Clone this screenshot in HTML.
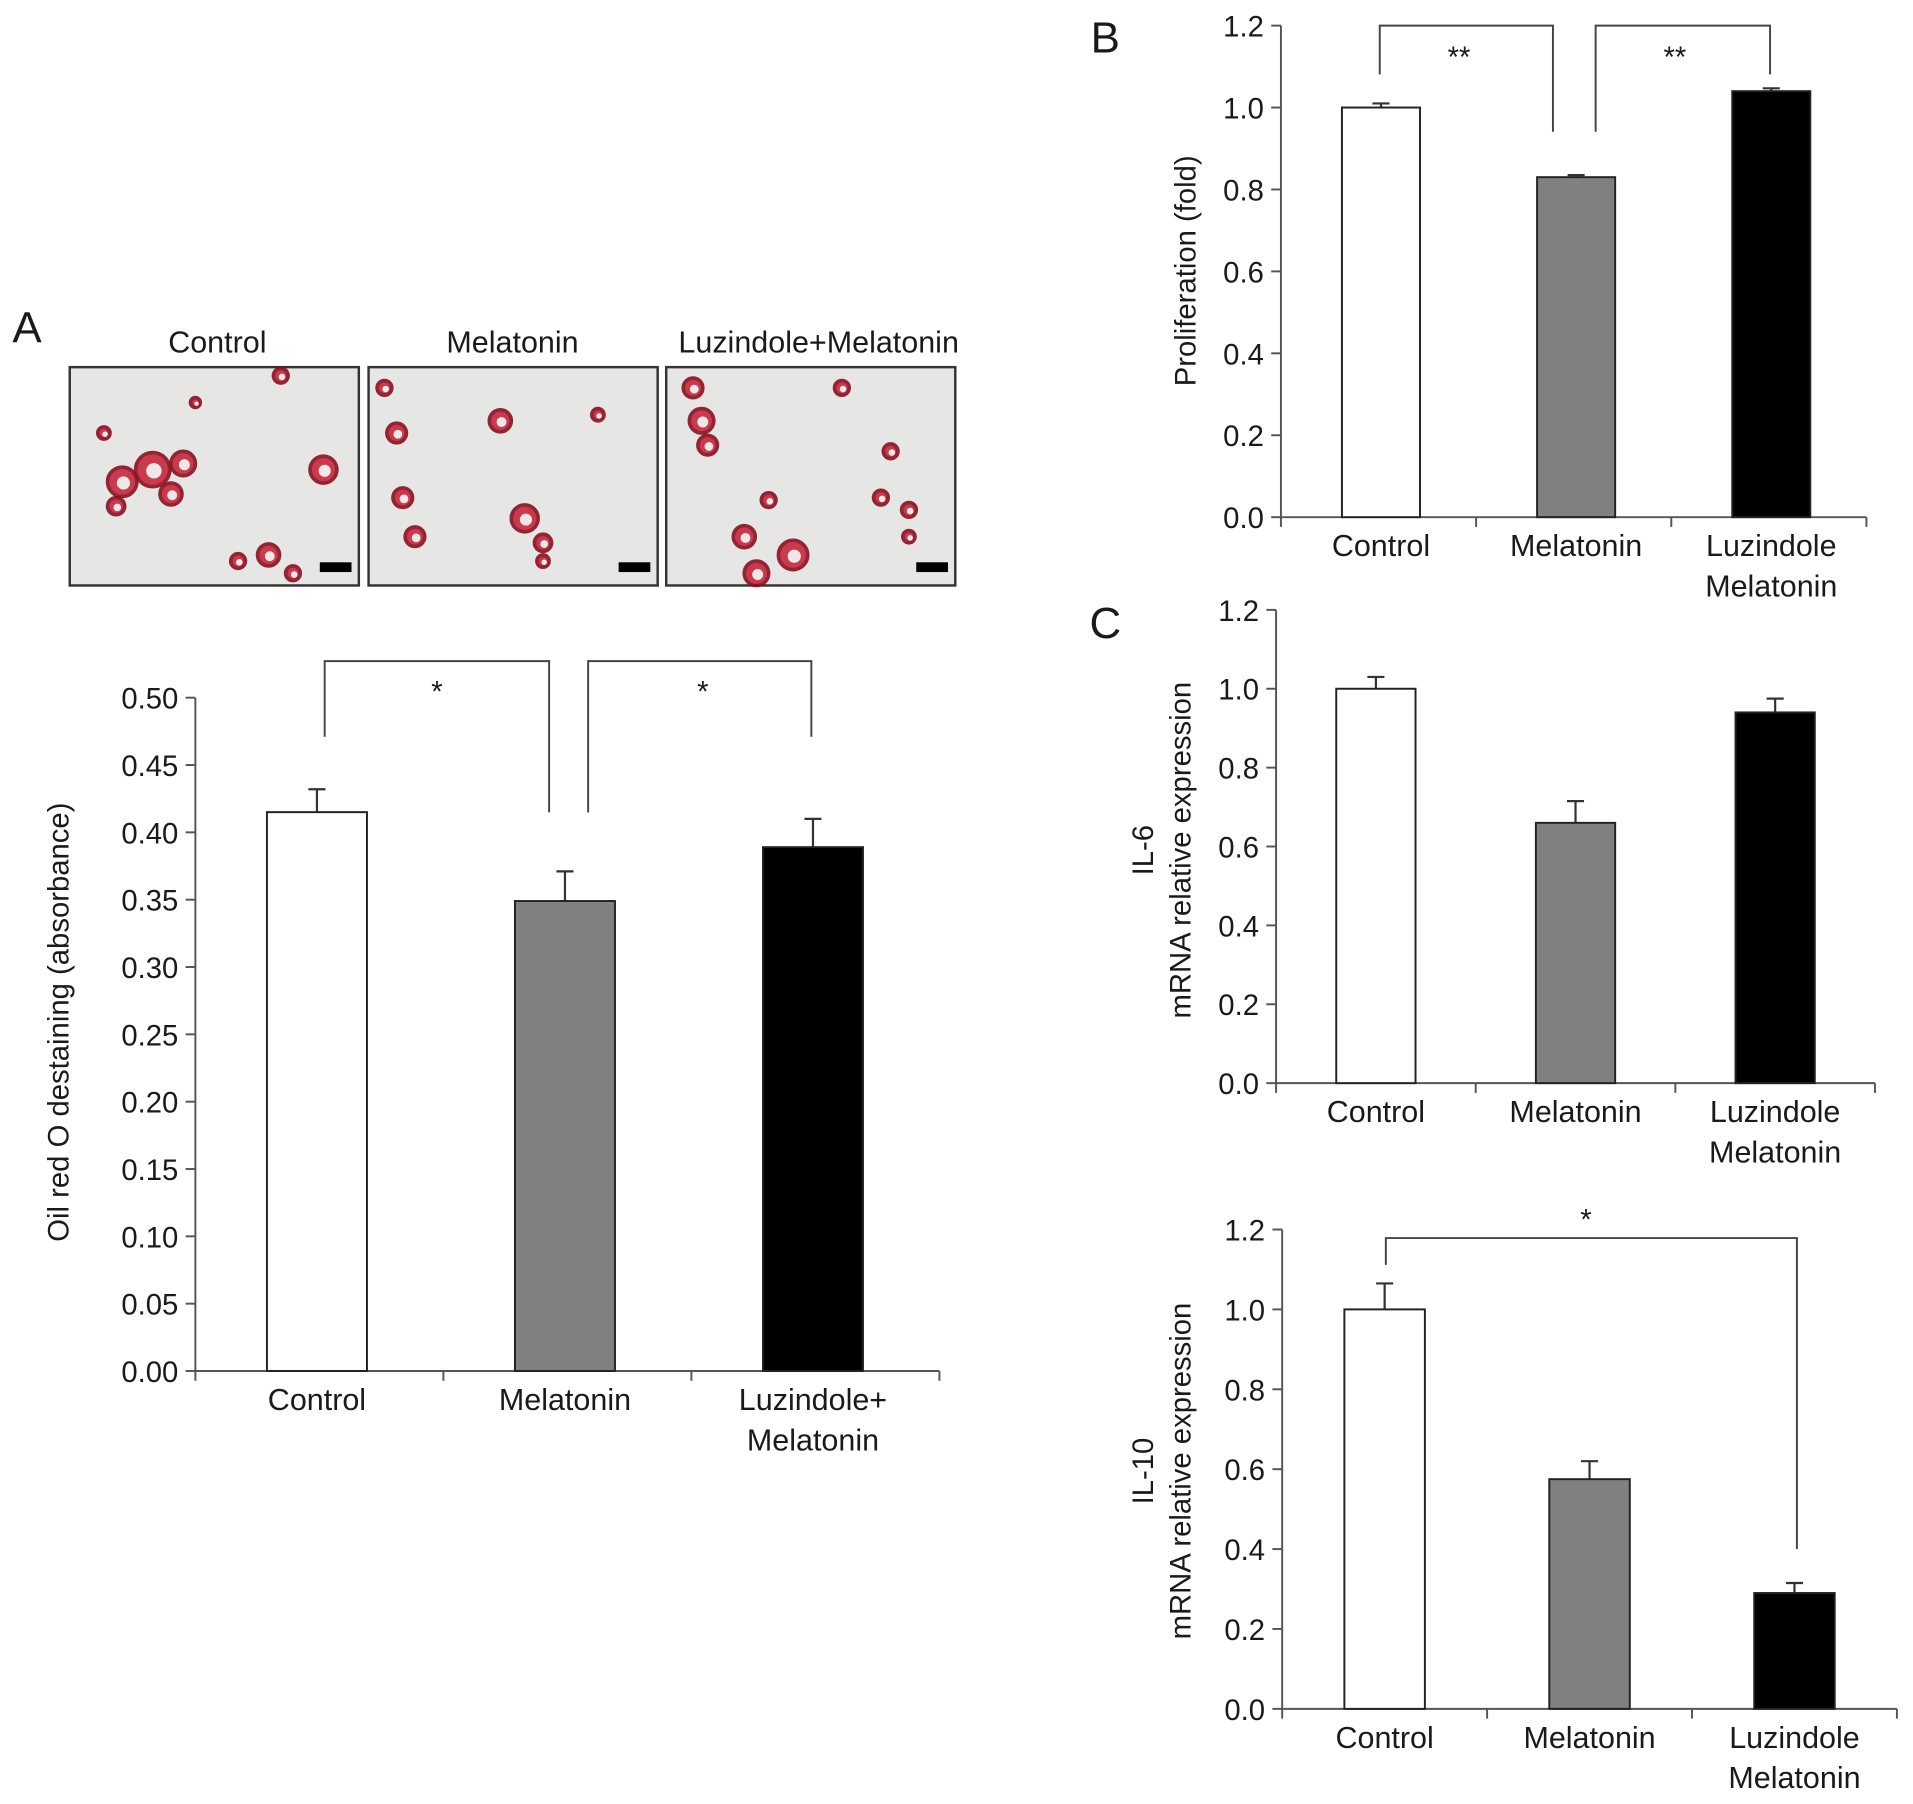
<!DOCTYPE html>
<html><head><meta charset="utf-8"><style>
html,body{margin:0;padding:0;background:#fff}
svg{display:block}
text{font-family:"Liberation Sans",Arial,sans-serif;fill:#1a1a1a}
</style></head><body>
<svg id="fig" width="1913" height="1804" viewBox="0 0 1568 1479" xmlns="http://www.w3.org/2000/svg">
<g><text x="22" y="281" font-size="36" text-anchor="middle">A</text></g>
<g><text x="906" y="43" font-size="36" text-anchor="middle">B</text></g>
<g><text x="906" y="523" font-size="36" text-anchor="middle">C</text></g>
<g font-size="25">
<text x="178" y="289" text-anchor="middle">Control</text>
<text x="420" y="289" text-anchor="middle">Melatonin</text>
<text x="671" y="289" text-anchor="middle">Luzindole+Melatonin</text>
</g>
<g id="micro"></g>
<g id="charts"></g>
</svg>
<script>
// Panel A data
const catsA = ["Control", "Melatonin", "Luzindole+|Melatonin"];
const valsA = [0.415, 0.349, 0.389];
const errA = [0.017, 0.022, 0.021];
const ticksA = ["0.00","0.05","0.10","0.15","0.20","0.25","0.30","0.35","0.40","0.45","0.50"];
// Panel B data
const catsB = ["Control", "Melatonin", "Luzindole|Melatonin"];
const valsB = [1.0, 0.83, 1.04];
const errB = [0.01, 0.005, 0.007];
const ticksB = ["0.0","0.2","0.4","0.6","0.8","1.0","1.2"];
// Panel C IL-6
const catsC1 = ["Control", "Melatonin", "Luzindole|Melatonin"];
const valsC1 = [1.0, 0.66, 0.94];
const errC1 = [0.03, 0.055, 0.035];
// Panel C IL-10
const catsC2 = ["Control", "Melatonin", "Luzindole|Melatonin"];
const valsC2 = [1.0, 0.575, 0.29];
const errC2 = [0.065, 0.045, 0.025];
const ticksC = ["0.0","0.2","0.4","0.6","0.8","1.0","1.2"];
const fills = ["#ffffff", "#808080", "#000000"];

const NS = "http://www.w3.org/2000/svg";
function mk(tag, attrs, parent){const e=document.createElementNS(NS,tag);for(const k in attrs)e.setAttribute(k,attrs[k]);parent.appendChild(e);return e;}

function chart(o){
  const g = mk("g", {}, document.getElementById("charts"));
  
  
  const ymax = parseFloat(o.ticks[o.ticks.length-1]);
  const y = v => o.y0 - (v/ymax)*(o.y0-o.y1);
  const n = o.cats.length;
  const cw = (o.x1-o.x0)/n;
  const xc = i => o.x0 + cw*(i+0.5);
  // axes
  const ax = mk("path", {d:`M${o.x0},${o.y1}V${o.y0}H${o.x1}`, stroke:"#555", "stroke-width":1.6, fill:"none"}, g);
  
  
  o.ticks.forEach((t,i)=>{
    const v = parseFloat(t);
    mk("line",{x1:o.x0-8,x2:o.x0,y1:y(v),y2:y(v),stroke:"#555","stroke-width":1.6},g);
    const tx = mk("text",{x:o.x0-14,y:y(v)+9,"font-size":24,"text-anchor":"end"},g);
    tx.textContent = t;
    
    
  });
  for(let i=0;i<=n;i++){
    mk("line",{x1:o.x0+cw*i,x2:o.x0+cw*i,y1:o.y0,y2:o.y0+8,stroke:"#555","stroke-width":1.6},g);
  }
  o.vals.forEach((v,i)=>{
    const c = xc(i) + (o.off||0);
    const eb = mk("path",{d:`M${c},${y(v)}V${y(v+o.err[i])}M${c-7},${y(v+o.err[i])}H${c+7}`,stroke:"#333","stroke-width":1.8,fill:"none"},g);
    
    
    const r = mk("rect",{x:c-o.bw/2,y:y(v),width:o.bw,height:o.y0-y(v),fill:fills[i],stroke:"#222","stroke-width":1.6},g);
    
    
    o.cats[i].split("|").forEach((line,j)=>{
      const t = mk("text",{x:c+(o.loff?o.loff[i]:0),y:o.y0+32+j*33,"font-size":25,"text-anchor":"middle"},g);
      t.textContent = line;
      
      
    });
  });
  o.ylab.forEach((l,j)=>{
    const t = mk("text",{transform:`translate(${o.ylx[j]},${o.yly}) rotate(-90)`,"font-size":24,"text-anchor":"middle"},g);
    t.textContent = l;
    
    
  });
  (o.brackets||[]).forEach(b=>{
    const p = mk("path",{d:`M${b[0]},${b[1]}V${b[2]}H${b[3]}V${b[4]}`,stroke:"#444","stroke-width":1.6,fill:"none"},g);
    
    
    const s = mk("text",{x:b[5],y:b[6],"font-size":24,"text-anchor":"middle"},g);
    s.textContent = b[7];
    
    
  });
}

chart({name:"chart-a-oil-red", cats:catsA, vals:valsA, err:errA, ticks:ticksA,
  x0:160,x1:770,y0:1124,y1:572,bw:82,off:-2,
  ylab:["Oil red O destaining (absorbance)"],ylx:[56],yly:838,
  brackets:[[266,604,542,450,666,358,575,"*"],[482,666,542,665,604,576,575,"*"]]});
chart({name:"chart-b-proliferation", cats:catsB, vals:valsB, err:errB, ticks:ticksB,
  x0:1050,x1:1530,y0:424,y1:21,bw:64,off:2,
  ylab:["Proliferation (fold)"],ylx:[980],yly:222,
  brackets:[[1131,61,21,1273,108,1196,55,"**"],[1308,108,21,1451,61,1373,55,"**"]]});
chart({name:"chart-c-il6", cats:catsC1, vals:valsC1, err:errC1, ticks:ticksC,
  x0:1046,x1:1537,y0:888,y1:500,bw:65,off:0,
  ylab:["IL-6","mRNA relative expression"],ylx:[945,976],yly:697});
chart({name:"chart-c-il10", cats:catsC2, vals:valsC2, err:errC2, ticks:ticksC,
  x0:1051,x1:1555,y0:1401,y1:1008,bw:66,off:0,
  ylab:["IL-10","mRNA relative expression"],ylx:[945,976],yly:1206,
  brackets:[[1136,1037,1015,1473,1270,1300,1008,"*"]]});

// micrographs (decorative)
const mg = document.getElementById("micro");
const boxes = [[57,301],[302,301],[546,301]];
const blobs = [
 [[100,395,12],[125,385,14],[150,380,10],[140,405,9],[95,415,7],[265,385,11],[160,330,4],[230,308,6],[220,455,9],[240,470,6],[195,460,6],[85,355,5]],
 [[325,355,8],[410,345,9],[430,425,11],[330,408,8],[340,440,8],[445,445,7],[315,318,6],[490,340,5],[445,460,5]],
 [[568,318,8],[575,345,10],[580,365,8],[610,440,9],[620,470,10],[650,455,12],[630,410,6],[730,370,6],[722,408,6],[745,418,6],[690,318,6],[745,440,5]]
];
boxes.forEach((b,i)=>{
  const r = mk("rect",{x:b[0],y:b[1],width:237,height:179,fill:"#e6e6e4",stroke:"#333","stroke-width":2},mg);
  
  
  blobs[i].forEach(c=>{
    mk("circle",{cx:c[0],cy:c[1],r:c[2],fill:"#c8283c",stroke:"#8a1020","stroke-width":3,opacity:0.9},mg);
    mk("circle",{cx:c[0]+1,cy:c[1]+1,r:c[2]*0.45,fill:"#f0e8e8"},mg);
  });
  const sb = mk("rect",{x:b[0]+205,y:b[1]+160,width:26,height:8,fill:"#000"},mg);
  
  
});
</script>
</body></html>
